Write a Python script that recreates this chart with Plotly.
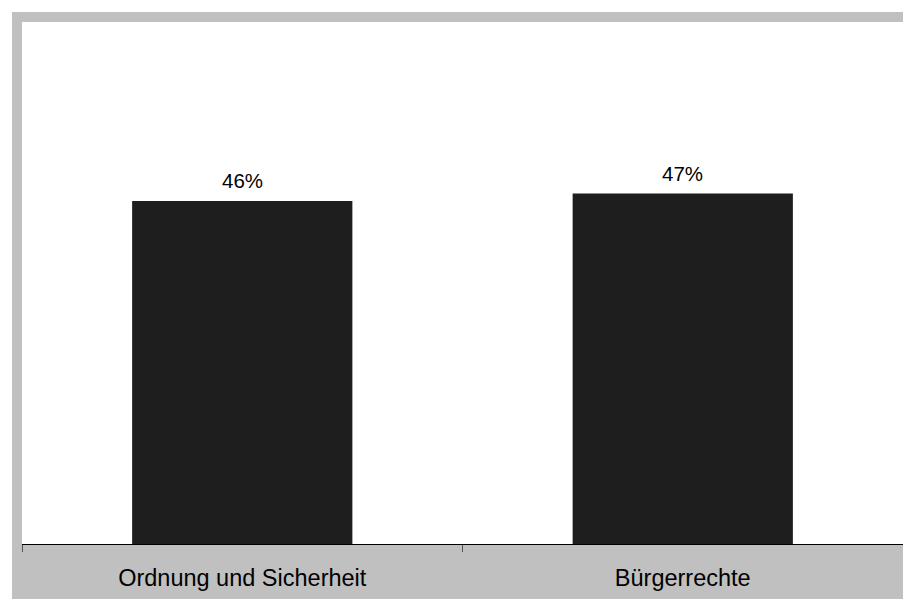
import plotly.graph_objects as go

# Survey shares by category
categories = ["Ordnung und Sicherheit", "Bürgerrechte"]
shares = [46, 47]
value_labels = [f"{v}%" for v in shares]

W, H = 903, 599
L, R, T, B = 22, 0, 22, 55
plot_w = W - L - R
plot_h = H - T - B


def px_x(x):
    return (x - L) / plot_w


def px_y(y):
    return (H - B - y) / plot_h


fig = go.Figure(
    go.Bar(
        x=categories,
        y=shares,
        marker=dict(color="#1e1e1e", line=dict(width=0)),
        hoverinfo="skip",
    )
)

for cat, val, lab in zip(categories, shares, value_labels):
    fig.add_annotation(
        x=cat, y=val, text=lab, showarrow=False,
        yanchor="bottom", yshift=7,
        font=dict(family="Liberation Sans, Arial", size=20.5, color="#000000"),
    )

GRAY = "#c0c0c0"
frame = [
    (12, 12, W, 22),      # top band
    (12, 12, 22, H),      # left band
    (12, H - B, W, H),    # bottom band behind category labels
]
for x0, y0, x1, y1 in frame:
    fig.add_shape(
        type="rect", xref="paper", yref="paper",
        x0=px_x(x0), x1=px_x(x1), y0=px_y(y1), y1=px_y(y0),
        fillcolor=GRAY, line=dict(width=0), layer="below",
    )

fig.update_layout(
    width=W, height=H,
    margin=dict(l=L, r=R, t=T, b=B, pad=0),
    paper_bgcolor="#ffffff",
    plot_bgcolor="#ffffff",
    bargap=0.5,
    showlegend=False,
    font=dict(family="Liberation Sans, Arial", color="#000000"),
    xaxis=dict(
        showline=True, linecolor="#000000", linewidth=1,
        ticks="outside", tickson="boundaries", ticklen=7,
        tickcolor="#555555", tickwidth=1,
        tickfont=dict(size=23.5, color="#000000"),
        ticklabelstandoff=13,
        showgrid=False, zeroline=False, fixedrange=True,
    ),
    yaxis=dict(
        range=[0, 70], visible=False, showgrid=False,
        zeroline=False, fixedrange=True,
    ),
)

fig.write_html("out.html", include_plotlyjs=True)
